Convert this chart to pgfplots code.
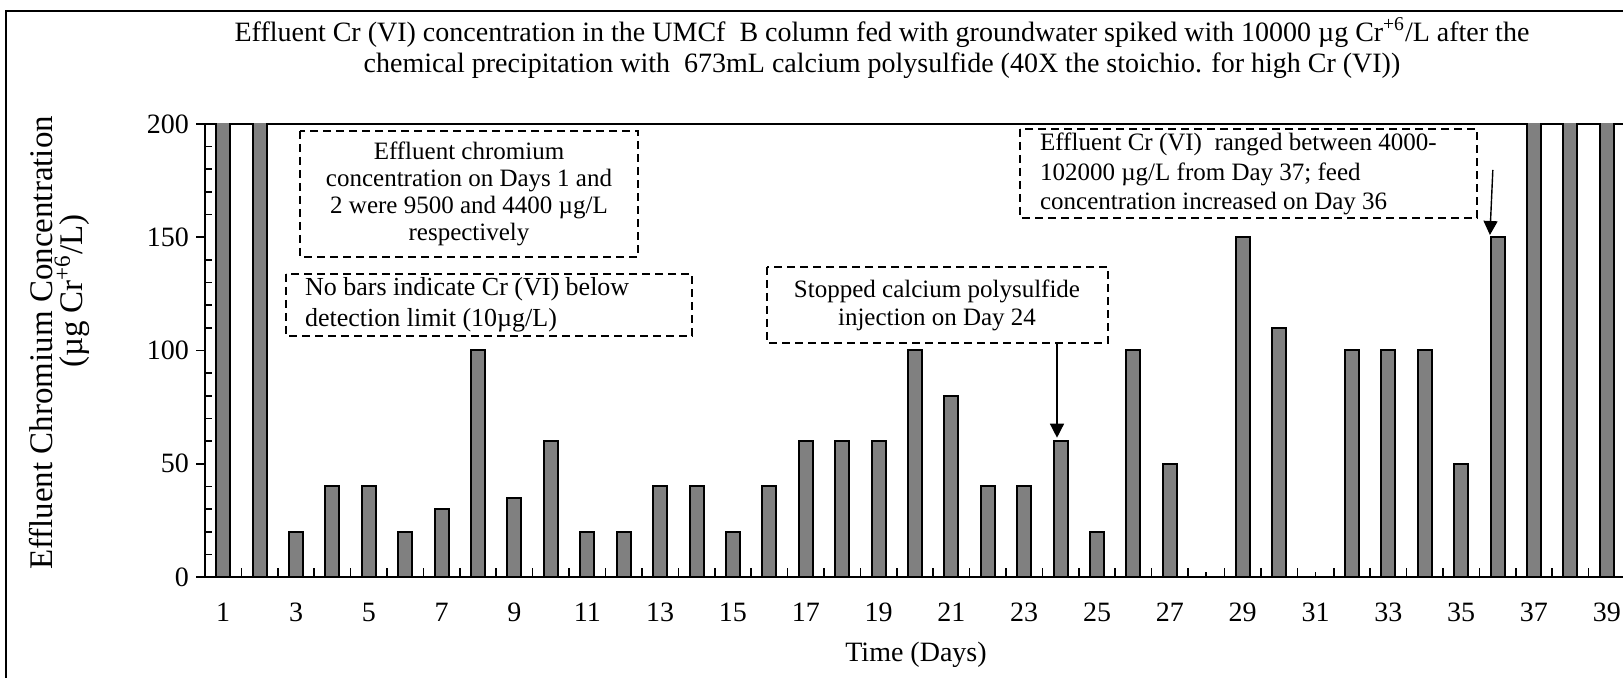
\documentclass[border=0pt]{standalone}
\usepackage{pgfplots}
\pgfplotsset{compat=1.18}
\usetikzlibrary{arrows.meta}
\usepackage{fontspec}
\setmainfont{Liberation Serif}
\definecolor{barfill}{RGB}{128,128,128}

% effluent Cr(VI), ug/L; days 28 and 31 below detection (no bar)
\pgfplotstableread{
day val
1 9500
2 4400
3 20
4 40
5 40
6 20
7 30
8 100
9 35
10 60
11 20
12 20
13 40
14 40
15 20
16 40
17 60
18 60
19 60
20 100
21 80
22 40
23 40
24 60
25 20
26 100
27 50
29 150
30 110
32 100
33 100
34 100
35 50
36 150
37 4000
38 4000
39 4000
}\crdata

\begin{document}
\begin{tikzpicture}
\begin{axis}[
  at={(102.5pt,-288.5pt)}, anchor=south west,
  scale only axis, width=710pt, height=226.5pt,
  xmin=0.5, xmax=39.5, ymin=0, ymax=200,
  axis line style={line width=0.8pt},
  ybar, bar width=7pt,
  xtick={0.5,1.5,...,39.5}, xticklabels={},
  extra x ticks={1,2,...,39},
  extra x tick labels={1,,3,,5,,7,,9,,11,,13,,15,,17,,19,,21,,23,,25,,27,,29,,31,,33,,35,,37,,39},
  extra x tick style={major tick length=2.5pt},
  xtick align=inside, ytick align=outside,
  xtick pos=left, ytick pos=left,
  major tick length=4.5pt, minor tick length=3.5pt,
  ytick={0,50,...,200}, minor y tick num=4,
  minor y tick style={xshift=3.5pt},
  tick style={black, line width=0.8pt},
  ticklabel style={font=\fontsize{14}{16}\selectfont},
  xticklabel style={yshift=-9.5pt},
  /pgf/number format/assume math mode=true,
]
\addplot[fill=barfill, draw=black, line width=1pt] table[x=day, y=val] {\crdata};

\draw[line width=0.7pt, -{Triangle[width=7pt,length=7pt]}] (axis cs:23.9,103.3) -- (axis cs:23.9,61.5);
\draw[line width=0.7pt, -{Triangle[width=7pt,length=7pt]}] (axis cs:35.87,179.7) -- (axis cs:35.79,151);
\end{axis}

\begin{scope}[x=0.5pt, y=-0.5pt]
  \draw[line width=0.8pt] (6,700) -- (6,11) -- (1640,11);

  \node[align=center, font=\fontsize{14}{15.5}\selectfont] at (882,48)
    {Effluent Cr (VI) concentration in the UMCf~ B column fed with groundwater spiked with 10000 µg Cr\textsuperscript{+6}/L after the\\
     chemical precipitation with~ 673mL calcium polysulfide (40X the stoichio. for high Cr (VI))};

  \node[rotate=90, font=\fontsize{16.5}{18}\selectfont] at (41,343) {Effluent Chromium Concentration};
  \node[rotate=90, font=\fontsize{16.5}{18}\selectfont] at (72,291) {(µg Cr\textsuperscript{+6}/L)};
  \node[font=\fontsize{14}{16}\selectfont] at (916,655) {Time (Days)};

  \draw[dashed, dash pattern=on 4pt off 2.5pt, line width=0.9pt] (300,131) rectangle (638,257);
  \node[align=center, font=\fontsize{12.5}{13.6}\selectfont] at (469,194)
    {Effluent chromium\\ concentration on Days 1 and\\ 2 were 9500 and 4400 µg/L\\ respectively};

  \draw[dashed, dash pattern=on 4pt off 2.5pt, line width=0.9pt] (286,274) rectangle (692,336);
  \node[anchor=west, align=left, font=\fontsize{13}{15.5}\selectfont] at (298,305)
    {No bars indicate Cr (VI) below\\ detection limit (10µg/L)};

  \draw[dashed, dash pattern=on 4pt off 2.5pt, line width=0.9pt] (767,267) rectangle (1108,343);
  \node[align=center, font=\fontsize{12.5}{14}\selectfont] at (937,305)
    {Stopped calcium polysulfide\\ injection on Day 24};

  \draw[dashed, dash pattern=on 4pt off 2.5pt, line width=0.9pt] (1020,129) rectangle (1477,218);
  \node[anchor=west, align=left, font=\fontsize{12.5}{14.7}\selectfont] at (1033,174)
    {Effluent Cr (VI)~ ranged between 4000-\\ 102000 µg/L from Day 37; feed\\ concentration increased on Day 36};

  \pgfresetboundingbox
  \path[use as bounding box] (0,0) rectangle (1623,678);
\end{scope}
\end{tikzpicture}
\end{document}
